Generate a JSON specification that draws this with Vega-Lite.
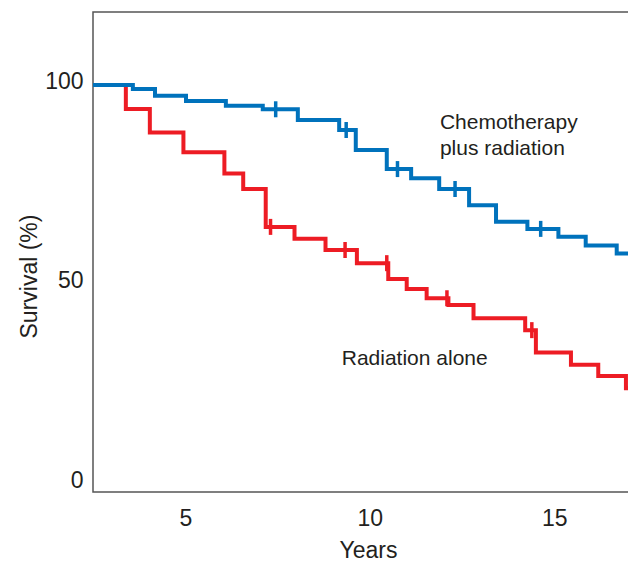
{
  "$schema": "https://vega.github.io/schema/vega-lite/v6.json",
  "width": 537,
  "height": 480,
  "autosize": {"type": "none"},
  "padding": {"left": 93, "top": 12, "right": 0, "bottom": 70},
  "background": "white",
  "config": {
    "font": "Liberation Sans",
    "view": {"stroke": "#555555", "strokeWidth": 1.5},
    "axis": {
      "grid": false,
      "ticks": false,
      "tickSize": 0,
      "domain": false,
      "labelFontSize": 23,
      "labelColor": "#231f20",
      "titleFontSize": 23,
      "titleFontWeight": "normal",
      "titleColor": "#231f20"
    }
  },
  "datasets": {
    "curves": [
      {"group": "Chemotherapy plus radiation", "year": 2.5, "survival": 99.1},
      {"group": "Chemotherapy plus radiation", "year": 3.58, "survival": 98.1},
      {"group": "Chemotherapy plus radiation", "year": 4.18, "survival": 96.4},
      {"group": "Chemotherapy plus radiation", "year": 5.02, "survival": 95.1},
      {"group": "Chemotherapy plus radiation", "year": 6.10, "survival": 93.9},
      {"group": "Chemotherapy plus radiation", "year": 7.10, "survival": 93.0},
      {"group": "Chemotherapy plus radiation", "year": 8.05, "survival": 90.3},
      {"group": "Chemotherapy plus radiation", "year": 9.17, "survival": 87.8},
      {"group": "Chemotherapy plus radiation", "year": 9.62, "survival": 82.8},
      {"group": "Chemotherapy plus radiation", "year": 10.46, "survival": 78.0},
      {"group": "Chemotherapy plus radiation", "year": 11.12, "survival": 75.7},
      {"group": "Chemotherapy plus radiation", "year": 11.88, "survival": 73.0},
      {"group": "Chemotherapy plus radiation", "year": 12.69, "survival": 68.9},
      {"group": "Chemotherapy plus radiation", "year": 13.42, "survival": 64.8},
      {"group": "Chemotherapy plus radiation", "year": 14.27, "survival": 63.0},
      {"group": "Chemotherapy plus radiation", "year": 15.11, "survival": 61.0},
      {"group": "Chemotherapy plus radiation", "year": 15.85, "survival": 58.8},
      {"group": "Chemotherapy plus radiation", "year": 16.69, "survival": 56.8},
      {"group": "Chemotherapy plus radiation", "year": 17.05, "survival": 56.8},
      {"group": "Radiation alone", "year": 2.5, "survival": 99.1},
      {"group": "Radiation alone", "year": 3.39, "survival": 93.1},
      {"group": "Radiation alone", "year": 4.04, "survival": 87.2},
      {"group": "Radiation alone", "year": 4.95, "survival": 82.2},
      {"group": "Radiation alone", "year": 6.06, "survival": 76.9},
      {"group": "Radiation alone", "year": 6.57, "survival": 73.0},
      {"group": "Radiation alone", "year": 7.18, "survival": 63.5},
      {"group": "Radiation alone", "year": 7.96, "survival": 60.5},
      {"group": "Radiation alone", "year": 8.80, "survival": 57.7},
      {"group": "Radiation alone", "year": 9.65, "survival": 54.4},
      {"group": "Radiation alone", "year": 10.50, "survival": 50.4},
      {"group": "Radiation alone", "year": 11.00, "survival": 47.9},
      {"group": "Radiation alone", "year": 11.54, "survival": 45.6},
      {"group": "Radiation alone", "year": 12.13, "survival": 43.9},
      {"group": "Radiation alone", "year": 12.81, "survival": 40.6},
      {"group": "Radiation alone", "year": 14.21, "survival": 37.6},
      {"group": "Radiation alone", "year": 14.50, "survival": 32.0},
      {"group": "Radiation alone", "year": 15.45, "survival": 28.9},
      {"group": "Radiation alone", "year": 16.19, "survival": 26.1},
      {"group": "Radiation alone", "year": 16.94, "survival": 23.0},
      {"group": "Radiation alone", "year": 17.05, "survival": 23.0}
    ],
    "censored": [
      {"group": "Chemotherapy plus radiation", "year": 7.45, "survival": 93.0},
      {"group": "Chemotherapy plus radiation", "year": 9.36, "survival": 87.8},
      {"group": "Chemotherapy plus radiation", "year": 10.75, "survival": 78.0},
      {"group": "Chemotherapy plus radiation", "year": 12.31, "survival": 73.0},
      {"group": "Chemotherapy plus radiation", "year": 14.63, "survival": 63.0},
      {"group": "Radiation alone", "year": 7.31, "survival": 63.5},
      {"group": "Radiation alone", "year": 9.33, "survival": 57.7},
      {"group": "Radiation alone", "year": 10.46, "survival": 54.4},
      {"group": "Radiation alone", "year": 12.09, "survival": 45.6},
      {"group": "Radiation alone", "year": 14.39, "survival": 37.6}
    ],
    "labels": [
      {"label": "Chemotherapy", "year": 11.9, "survival": 88.0},
      {"label": "plus radiation", "year": 11.9, "survival": 81.5},
      {"label": "Radiation alone", "year": 9.24, "survival": 28.9}
    ]
  },
  "encoding": {
    "x": {
      "field": "year",
      "type": "quantitative",
      "scale": {"domain": [2.5, 17.05], "nice": false, "zero": false},
      "axis": {
        "values": [5, 10, 15],
        "labelPadding": 15,
        "title": "Years",
        "titleX": 275,
        "titleY": 65,
        "titleBaseline": "alphabetic"
      }
    },
    "y": {
      "field": "survival",
      "type": "quantitative",
      "scale": {"domain": [-3, 117.4], "nice": false, "zero": false},
      "axis": {
        "values": [0, 50, 100],
        "labelPadding": 10,
        "title": "Survival (%)",
        "titleX": -57,
        "titleY": 264,
        "titleBaseline": "alphabetic"
      }
    }
  },
  "layer": [
    {
      "data": {"name": "curves"},
      "transform": [{"filter": "datum.group === 'Radiation alone'"}],
      "mark": {"type": "line", "interpolate": "step-after", "strokeWidth": 4, "color": "#ed1c24", "clip": true}
    },
    {
      "data": {"name": "curves"},
      "transform": [{"filter": "datum.group === 'Chemotherapy plus radiation'"}],
      "mark": {"type": "line", "interpolate": "step-after", "strokeWidth": 4, "color": "#0072bc", "clip": true}
    },
    {
      "data": {"name": "censored"},
      "mark": {"type": "tick", "orient": "vertical", "size": 16, "thickness": 3.5, "opacity": 1},
      "encoding": {
        "color": {
          "field": "group",
          "type": "nominal",
          "scale": {"domain": ["Chemotherapy plus radiation", "Radiation alone"], "range": ["#0072bc", "#ed1c24"]},
          "legend": null
        }
      }
    },
    {
      "data": {"name": "labels"},
      "mark": {"type": "text", "align": "left", "baseline": "alphabetic", "fontSize": 21, "color": "#231f20"},
      "encoding": {"text": {"field": "label"}}
    }
  ]
}
